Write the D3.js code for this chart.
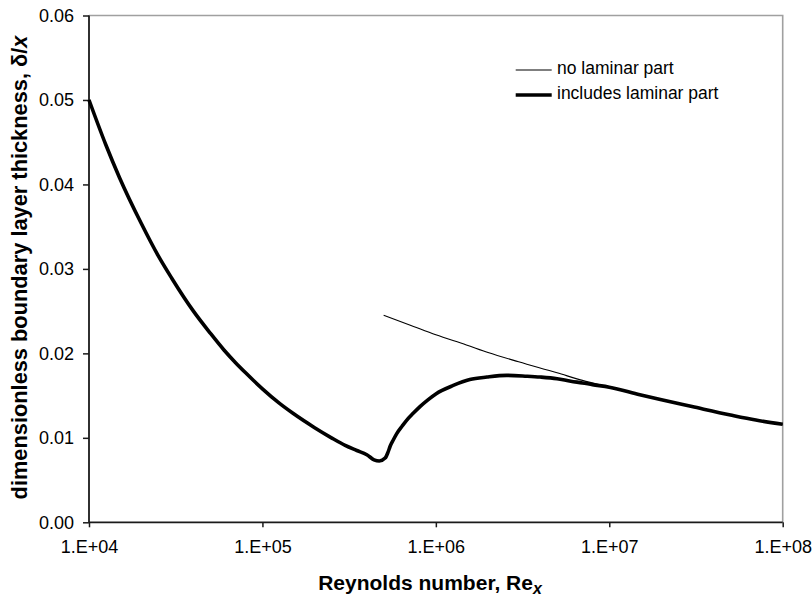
<!DOCTYPE html>
<html>
<head>
<meta charset="utf-8">
<script src="https://cdn.jsdelivr.net/npm/d3@7"></script>
<style>
  html, body { margin: 0; padding: 0; background: #fff; }
  svg { display: block; font-family: Arial, "Liberation Sans", sans-serif; }
</style>
</head>
<body>
<svg id="chart" width="812" height="598"></svg>
<script>
// ---- data ----
const xTicks = [1e4, 1e5, 1e6, 1e7, 1e8];
const xTickLabels = ["1.E+04", "1.E+05", "1.E+06", "1.E+07", "1.E+08"];
const yTicks = [0, 0.01, 0.02, 0.03, 0.04, 0.05, 0.06];
const yTickLabels = ["0.00", "0.01", "0.02", "0.03", "0.04", "0.05", "0.06"];

// "no laminar part" (thin)
const reNoLam = [5e5, 7e5, 1e6, 1.5e6, 2e6, 3e6, 5e6, 7e6, 1e7, 1.5e7, 2e7, 3e7, 5e7, 7e7, 1e8];
const deltaNoLam = [0.0245, 0.0234, 0.0222, 0.0210, 0.0201, 0.0190, 0.0177, 0.0168, 0.0160, 0.0151, 0.0145, 0.0137, 0.0127, 0.0121, 0.0116];

// "includes laminar part" (thick)
const reLam = [1e4, 1.25e4, 1.5e4, 2e4, 2.5e4, 3e4, 4e4, 5e4, 6e4, 7e4, 8e4, 1e5, 1.25e5, 1.5e5, 2e5, 2.5e5, 3e5, 3.5e5, 4e5, 4.4e5, 4.72e5, 5.1e5, 5.3e5, 5.45e5, 5.7e5, 5.95e5, 6.4e5, 6.8e5, 7.4e5, 8.1e5, 9e5, 1e6, 1.26e6, 1.57e6, 1.97e6, 2.56e6, 3.34e6, 4e6, 5e6, 6e6, 7e6, 8e6, 1e7, 1.5e7, 2e7, 3e7, 5e7, 7e7, 1e8];
const deltaLam = [0.0500, 0.0447, 0.0408, 0.0354, 0.0316, 0.0289, 0.0250, 0.0224, 0.0204, 0.0189, 0.0177, 0.0158, 0.0141, 0.0129, 0.0112, 0.0100, 0.0091, 0.0085, 0.0080, 0.0074, 0.00725, 0.0076, 0.0083, 0.0090, 0.0098, 0.0105, 0.0114, 0.0121, 0.0129, 0.0137, 0.0145, 0.0152, 0.0162, 0.0169, 0.0172, 0.0174, 0.0173, 0.0172, 0.0170, 0.0167, 0.0165, 0.0163, 0.0160, 0.0151, 0.0145, 0.0137, 0.0127, 0.0121, 0.0116];

const seriesNames = ["no laminar part", "includes laminar part"];

// ---- layout ----
const svg = d3.select("#chart");
const mLeft = 89, mRight = 782.7, mTop = 15.5, mBottom = 522.3;

const x = d3.scaleLog().domain([1e4, 1e8]).range([mLeft, mRight]);
const y = d3.scaleLinear().domain([0, 0.06]).range([mBottom, mTop]);

// frame (top & right grey)
svg.append("path")
  .attr("d", `M${mLeft},${mTop}H${mRight}V${mBottom}`)
  .attr("fill", "none").attr("stroke", "#a0a0a0").attr("stroke-width", 1.6);

// axes
const yAxis = d3.axisLeft(y).tickValues(yTicks).tickSize(6).tickPadding(9)
  .tickFormat((d, i) => yTickLabels[i]);
const gy = svg.append("g").attr("transform", `translate(${mLeft},0)`).call(yAxis);
const xAxis = d3.axisBottom(x).tickValues(xTicks).tickSize(5).tickPadding(13)
  .tickFormat((d, i) => xTickLabels[i]);
const gx = svg.append("g").attr("transform", `translate(0,${mBottom})`).call(xAxis);

[gx, gy].forEach(g => {
  g.select(".domain").attr("stroke", "#1a1a1a").attr("stroke-width", 1.8);
  g.selectAll(".tick line").attr("stroke", "#1a1a1a").attr("stroke-width", 1.5);
  g.selectAll(".tick text").attr("fill", "#000").style("font-size", "18px")
    .style("font-family", "Arial, 'Liberation Sans', sans-serif");
});
gx.select(".domain").attr("d", `M${mLeft},0H${mRight}`);
gy.select(".domain").attr("d", `M0,${mBottom}V${mTop}`);

// lines
const line = d3.line().x(d => x(d[0])).y(d => y(d[1])).curve(d3.curveMonotoneX);
svg.append("path")
  .datum(reNoLam.map((r, i) => [r, deltaNoLam[i]]))
  .attr("d", line).attr("fill", "none").attr("stroke", "#000").attr("stroke-width", 1.1);
svg.append("path")
  .datum(reLam.map((r, i) => [r, deltaLam[i]]))
  .attr("d", line).attr("fill", "none").attr("stroke", "#000").attr("stroke-width", 3.6)
  .attr("stroke-linejoin", "round");

// legend
const legend = svg.append("g");
[0, 1].forEach(i => {
  const ly = 70 + i * 25;
  legend.append("line").attr("x1", 515.7).attr("x2", 551.7).attr("y1", ly).attr("y2", ly)
    .attr("stroke", "#000").attr("stroke-width", i === 0 ? 1.1 : 3.6);
  legend.append("text").attr("x", 557).attr("y", ly + 3.6)
    .style("font-size", "17.5px").text(seriesNames[i]);
});

// axis titles
const xt = svg.append("text").attr("x", 430).attr("y", 590)
  .attr("text-anchor", "middle").style("font-size", "21px").style("font-weight", "bold");
xt.append("tspan").text("Reynolds number, Re");
xt.append("tspan").attr("dy", 4).style("font-style", "italic").style("font-size", "16px").text("x");

const yt = svg.append("text").attr("transform", "translate(27,267.5) rotate(-90)")
  .attr("text-anchor", "middle").style("font-size", "22px").style("font-weight", "bold");
yt.append("tspan").text("dimensionless boundary layer thickness, δ/");
yt.append("tspan").style("font-style", "italic").text("x");
// fit the rotated title to the span it occupies in the reference (about 465 px)
const ytLen = yt.node().getBBox().width;
if (ytLen > 0) yt.style("font-size", (22 * 465 / ytLen).toFixed(2) + "px");
</script>
</body>
</html>
